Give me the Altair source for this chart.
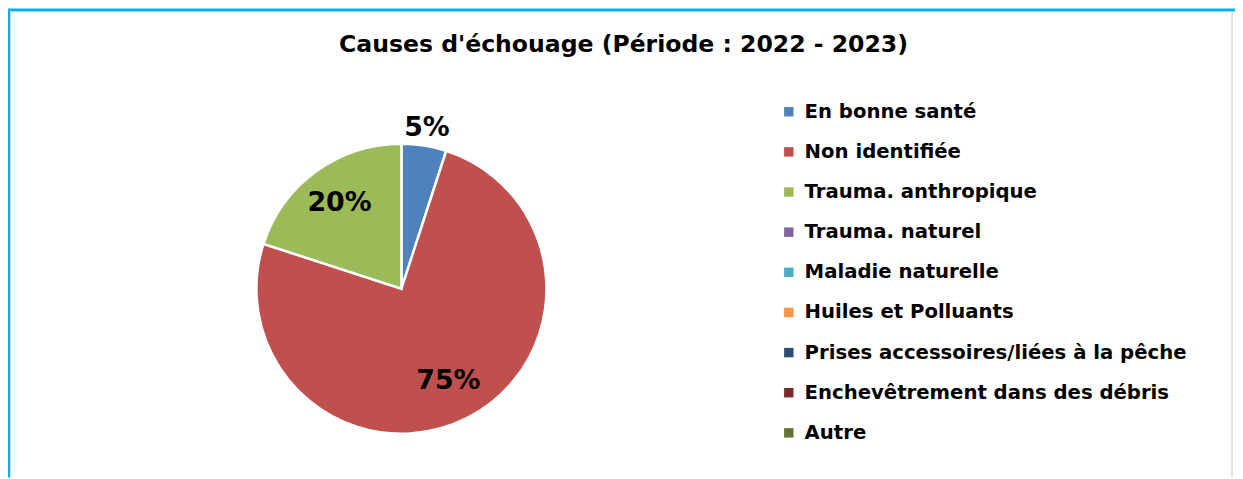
import altair as alt
import pandas as pd

categories = [
    "En bonne santé",
    "Non identifiée",
    "Trauma. anthropique",
    "Trauma. naturel",
    "Maladie naturelle",
    "Huiles et Polluants",
    "Prises accessoires/liées à la pêche",
    "Enchevêtrement dans des débris",
    "Autre",
]
values = [5, 75, 20, 0, 0, 0, 0, 0, 0]
labels = ["5%", "75%", "20%", "", "", "", "", "", ""]
label_radius = [164, 104, 106, 0, 0, 0, 0, 0, 0]
colors = ["#4F81BD", "#C0504D", "#9BBB59", "#8064A2", "#4BACC6",
          "#F79646", "#2C4D75", "#772C2A", "#5F7530"]
title_text = "Causes d'échouage (Période : 2022 - 2023)"

df = pd.DataFrame({
    "cause": categories,
    "value": values,
    "label": labels,
    "lr": label_radius,
    "idx": list(range(len(categories))),
})

W, H = 1235, 471
CX, CY = 396, 281
R = 146
FONT = "DejaVu Sans"

color = alt.Color(
    "cause:N",
    scale=alt.Scale(domain=categories, range=colors),
    sort=categories,
    legend=alt.Legend(
        title=None,
        orient="none",
        legendX=776,
        legendY=93,
        symbolType="square",
        symbolSize=90,
        symbolStrokeWidth=0,
        labelFont=FONT,
        labelFontSize=19.8,
        labelFontWeight="bold",
        labelColor="#000000",
        labelOffset=6,
        rowPadding=19.4,
        labelLimit=600,
    ),
)

base = alt.Chart(df).transform_filter("datum.value > 0")

theta_scale = alt.Scale(domain=[0, 100])

arcs = base.mark_arc(radius=R, stroke="white", strokeWidth=2.5).encode(
    theta=alt.Theta("value:Q", stack=True, scale=theta_scale),
    color=color,
    order=alt.Order("idx:Q"),
    x=alt.value(CX),
    y=alt.value(CY),
)

text = base.transform_window(
    cum="sum(value)", sort=[alt.SortField("idx")]
).transform_calculate(
    mid="datum.cum - datum.value / 2"
).mark_text(font=FONT, fontSize=27, fontWeight="bold", color="black").encode(
    theta=alt.Theta("mid:Q", stack=None, scale=theta_scale),
    radius=alt.Radius("lr:Q", scale=None),
    text="label:N",
    x=alt.value(CX),
    y=alt.value(CY),
)

title = alt.Chart(pd.DataFrame({"t": [title_text]})).mark_text(
    font=FONT, fontSize=23.7, fontWeight="bold", color="black"
).encode(text="t:N", x=alt.value(W / 2 + 2), y=alt.value(36))

frame_df = pd.DataFrame({"k": [0]})
top_rule = alt.Chart(frame_df).mark_rule(color="#00B0F0", strokeWidth=3).encode(
    x=alt.value(0), x2=alt.value(W), y=alt.value(0.5)
)
left_rule = alt.Chart(frame_df).mark_rule(color="#00B0F0", strokeWidth=3).encode(
    x=alt.value(0.5), y=alt.value(0), y2=alt.value(H)
)
inner_top = alt.Chart(frame_df).mark_rule(color="#D9D9D9", strokeWidth=1).encode(
    x=alt.value(2), x2=alt.value(W - 3), y=alt.value(2.5)
)
inner_left = alt.Chart(frame_df).mark_rule(color="#D9D9D9", strokeWidth=1).encode(
    x=alt.value(2.5), y=alt.value(2), y2=alt.value(H)
)
right_rule = alt.Chart(frame_df).mark_rule(color="#D9D9D9", strokeWidth=1.5).encode(
    x=alt.value(W - 3), y=alt.value(2), y2=alt.value(H)
)

chart = alt.layer(
    arcs, text, title, top_rule, left_rule, inner_top, inner_left, right_rule
).properties(
    width=W, height=H, padding=0,
    autosize=alt.AutoSizeParams(type="none"),
    background="white",
).configure_view(stroke=None)

chart.save("out.html", embed_options={"renderer": "svg", "actions": False})
